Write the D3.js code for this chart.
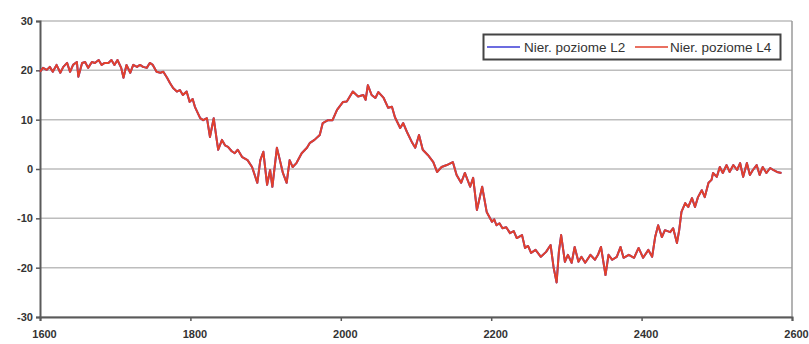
<!DOCTYPE html>
<html>
<head>
<meta charset="utf-8">
<script src="https://cdn.jsdelivr.net/npm/d3@7/dist/d3.min.js"></script>
<style>
  html, body { margin: 0; padding: 0; background: #fff; }
  svg text { font-family: "Liberation Sans", Arial, sans-serif; fill: #333; }
</style>
</head>
<body>
<svg id="chart" width="809" height="344"></svg>
<script>
// Level measurements along the profile
const years = [
  1600,1604,1609,1613,1617,1622,1627,1631,1636,1640,1644,1649,1651,1656,1660,1664,1669,1673,1678,1682,
  1686,1691,1695,1699,1703,1708,1711,1715,1720,1724,1729,1733,1737,1742,1746,1750,1755,1760,1764,1769,
  1773,1777,1782,1786,1790,1795,1799,1803,1806,1813,1817,1822,1826,1831,1835,1837,1842,1846,1850,1855,1859,1863,1869,
  1876,1882,1889,1893,1897,1902,1906,1909,1915,1919,1923,1928,1932,1936,1941,1948,1955,1959,1965,1972,
  1976,1983,1989,1995,2003,2008,2016,2023,2030,2033,2036,2041,2046,2050,2057,2063,2068,2072,2079,2083,
  2088,2095,2099,2104,2109,2116,2123,2128,2134,2141,2149,2154,2160,2165,2172,2176,2181,2188,2194,2201,
  2204,2207,2211,2215,2220,2225,2230,2234,2241,2245,2249,2253,2259,2266,2273,2279,2283,2287,2290,2293,2298,2302,2307,2311,2316,
  2320,2325,2332,2338,2342,2346,2352,2356,2361,2367,2372,2376,2383,2390,2396,2402,2409,2414,2418,2422,
  2427,2431,2438,2442,2447,2450,2453,2458,2462,2467,2471,2475,2480,2484,2489,2493,2495,2500,2504,2508,
  2513,2517,2522,2527,2531,2535,2540,2544,2548,2553,2557,2561,2566,2571,2575,2580,2586
];

const levelL2 = [
  19.7,20.5,20.1,20.7,19.7,21.1,19.5,20.7,21.5,19.7,21.1,21.7,18.7,21.5,21.7,20.5,21.7,21.5,22.1,21.1,
  21.5,21.5,22.1,21.1,22.1,20.5,18.5,21.1,19.5,21.1,20.7,21.1,20.7,20.5,21.5,21.1,19.7,19.5,19.7,18.5,
  17.4,16.4,15.7,16.0,15.0,15.7,13.6,14.2,12.6,10.3,9.9,10.3,6.5,10.3,5.9,3.9,5.9,4.8,4.5,3.6,3.2,3.9,2.4,
  1.8,0.4,-2.8,1.8,3.5,-3.2,-0.2,-3.6,4.3,1.8,-0.8,-2.8,1.8,0.4,1.2,3.2,4.3,5.3,5.9,6.9,
  9.3,9.9,9.9,12.0,13.6,13.7,15.7,14.7,15.0,14.0,17.0,15.0,14.4,15.6,14.4,12.4,12.6,10.5,8.3,9.3,
  7.5,5.3,4.3,6.9,3.9,2.8,1.4,-0.6,0.4,0.8,1.4,-1.2,-2.8,-0.8,-3.6,-1.8,-8.3,-3.6,-8.7,-10.7,
  -10.2,-11.4,-11.0,-12.0,-11.8,-13.0,-12.6,-14.0,-13.4,-16.0,-15.6,-17.0,-16.4,-17.8,-16.8,-15.4,-20.0,-23.0,-16.8,-13.4,-18.8,-17.4,-19.0,-15.8,-18.8,
  -17.8,-19.0,-17.4,-18.4,-17.4,-15.8,-21.5,-17.4,-18.4,-17.8,-15.8,-18.0,-17.4,-18.0,-16.0,-18.0,-16.4,-17.8,-13.8,-11.4,
  -13.8,-12.4,-12.8,-12.0,-15.0,-12.4,-8.7,-6.9,-7.7,-5.9,-7.7,-5.7,-4.3,-5.7,-2.8,-2.2,-0.8,-1.6,0.4,-0.8,
  0.8,-0.6,0.8,-0.2,1.2,-1.6,1.2,-1.2,-0.2,0.8,-1.2,0.4,-0.8,0.2,-0.2,-0.6,-0.8
];

const levelL4 = [
  19.7,20.5,20.1,20.7,19.7,21.1,19.5,20.7,21.5,19.7,21.1,21.7,18.7,21.5,21.7,20.5,21.7,21.5,22.1,21.1,
  21.5,21.5,22.1,21.1,22.1,20.5,18.5,21.1,19.5,21.1,20.7,21.1,20.7,20.5,21.5,21.1,19.7,19.5,19.7,18.5,
  17.4,16.4,15.7,16.0,15.0,15.7,13.6,14.2,12.6,10.3,9.9,10.3,6.5,10.3,5.9,3.9,5.9,4.8,4.5,3.6,3.2,3.9,2.4,
  1.8,0.4,-2.8,1.8,3.5,-3.2,-0.2,-3.6,4.3,1.8,-0.8,-2.8,1.8,0.4,1.2,3.2,4.3,5.3,5.9,6.9,
  9.3,9.9,9.9,12.0,13.6,13.7,15.7,14.7,15.0,14.0,17.0,15.0,14.4,15.6,14.4,12.4,12.6,10.5,8.3,9.3,
  7.5,5.3,4.3,6.9,3.9,2.8,1.4,-0.6,0.4,0.8,1.4,-1.2,-2.8,-0.8,-3.6,-1.8,-8.3,-3.6,-8.7,-10.7,
  -10.2,-11.4,-11.0,-12.0,-11.8,-13.0,-12.6,-14.0,-13.4,-16.0,-15.6,-17.0,-16.4,-17.8,-16.8,-15.4,-20.0,-23.0,-16.8,-13.4,-18.8,-17.4,-19.0,-15.8,-18.8,
  -17.8,-19.0,-17.4,-18.4,-17.4,-15.8,-21.5,-17.4,-18.4,-17.8,-15.8,-18.0,-17.4,-18.0,-16.0,-18.0,-16.4,-17.8,-13.8,-11.4,
  -13.8,-12.4,-12.8,-12.0,-15.0,-12.4,-8.7,-6.9,-7.7,-5.9,-7.7,-5.7,-4.3,-5.7,-2.8,-2.2,-0.8,-1.6,0.4,-0.8,
  0.8,-0.6,0.8,-0.2,1.2,-1.6,1.2,-1.2,-0.2,0.8,-1.2,0.4,-0.8,0.2,-0.2,-0.6,-0.8
];

const xTicks = [1600, 1800, 2000, 2200, 2400, 2600];
const yTicks = [-30, -20, -10, 0, 10, 20, 30];
const seriesNames = ["Nier. poziome L2", "Nier. poziome L4"];
const seriesColors = ["#3b3bd6", "#e2402c"];

const margin = { left: 40, right: 17, top: 21, bottom: 27 };
const svg = d3.select("#chart");
const W = +svg.attr("width"), H = +svg.attr("height");
const iw = W - margin.left - margin.right;
const ih = H - margin.top - margin.bottom;

const x = d3.scaleLinear().domain([1600, 2600]).range([margin.left, margin.left + iw]);
const y = d3.scaleLinear().domain([-30, 30]).range([margin.top + ih, margin.top]);
const plainNumber = d => String(d);

// horizontal grid
svg.append("g")
  .selectAll("line")
  .data(yTicks)
  .join("line")
  .attr("x1", x(1600)).attr("x2", x(2600))
  .attr("y1", d => y(d)).attr("y2", d => y(d))
  .attr("stroke", "#bdbdbd").attr("stroke-width", 1.5);

// right frame edge
svg.append("line")
  .attr("x1", x(2600)).attr("x2", x(2600))
  .attr("y1", y(30)).attr("y2", y(-30))
  .attr("stroke", "#9a9a9a").attr("stroke-width", 1.5);

// y axis
const yAxis = svg.append("g")
  .attr("transform", `translate(${x(1600)},0)`)
  .call(d3.axisLeft(y).tickValues(yTicks).tickSize(4).tickPadding(3).tickFormat(plainNumber));
yAxis.select(".domain").attr("stroke", "#5a5a5a").attr("stroke-width", 2);
yAxis.selectAll(".tick line").attr("stroke", "#5a5a5a").attr("stroke-width", 1.5);
yAxis.selectAll(".tick text").attr("font-size", 11).attr("font-weight", "bold").attr("fill", "#3a3a3a");

// x axis
const xAxis = svg.append("g")
  .attr("transform", `translate(0,${y(-30)})`)
  .call(d3.axisBottom(x).tickValues(xTicks).tickSize(4).tickPadding(9).tickFormat(plainNumber));
xAxis.select(".domain").attr("stroke", "#5a5a5a").attr("stroke-width", 2);
xAxis.selectAll(".tick line").attr("stroke", "#5a5a5a").attr("stroke-width", 1.5);
xAxis.selectAll(".tick text").attr("font-size", 11).attr("font-weight", "bold").attr("fill", "#3a3a3a")
  .attr("dx", 4);

// series
const line = d3.line().x((d, i) => x(years[i])).y(d => y(d));
[levelL2, levelL4].forEach((vals, k) => {
  svg.append("path")
    .datum(vals)
    .attr("d", line)
    .attr("fill", "none")
    .attr("stroke", seriesColors[k])
    .attr("stroke-width", 2)
    .attr("stroke-linejoin", "round");
});

// legend
const lg = svg.append("g");
lg.append("rect")
  .attr("x", 483.5).attr("y", 34.5).attr("width", 297).attr("height", 25)
  .attr("fill", "#fff").attr("stroke", "#444").attr("stroke-width", 2);
const legendItems = [
  { sx: 487, tx: 524 },
  { sx: 635, tx: 670 }
];
legendItems.forEach((it, k) => {
  lg.append("line")
    .attr("x1", it.sx).attr("x2", it.sx + 33)
    .attr("y1", 47).attr("y2", 47)
    .attr("stroke", seriesColors[k]).attr("stroke-width", 1.5);
  lg.append("text")
    .attr("x", it.tx).attr("y", 51.5)
    .attr("font-size", 13.5)
    .attr("fill", "#222")
    .text(seriesNames[k]);
});
</script>
</body>
</html>
